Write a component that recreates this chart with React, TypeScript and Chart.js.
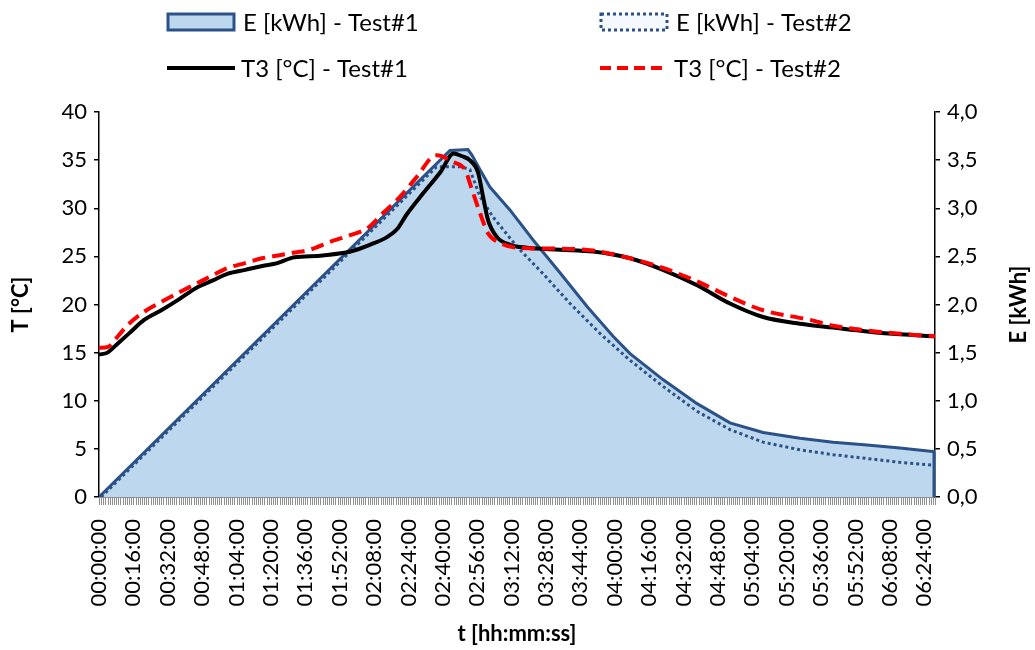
import React, { useEffect, useRef } from 'react';
import { Chart, registerables } from 'chart.js';

Chart.register(...registerables);

// ---- data (time in minutes from start) ----
const xMaxMinutes = 389;
const labelEvery = 16;
const minorTickEvery = 1;

const t1Times = [0, 4, 8, 14, 21, 29, 37, 45, 53, 60, 68, 76, 83, 89, 91, 104, 117, 126, 134, 139, 143, 151, 159, 165, 169, 172.5, 176.4, 178.7, 181, 185.2, 191.3, 199.2, 214.5, 229.9, 247.1, 262.4, 278.3, 293.6, 309, 326.2, 341.6, 357.4, 372.7, 389];
const t1Values = [14.8, 15.0, 15.8, 17.0, 18.4, 19.4, 20.5, 21.7, 22.5, 23.2, 23.6, 24.0, 24.3, 24.8, 24.9, 25.1, 25.5, 26.2, 27.0, 27.9, 29.3, 31.6, 33.8, 35.7, 35.4, 35.0, 33.7, 31.2, 28.8, 27.0, 26.2, 25.9, 25.7, 25.5, 24.8, 23.6, 22.0, 20.1, 18.7, 18.0, 17.6, 17.2, 16.9, 16.7];

const t2Times = [0, 4.2, 8.8, 13.5, 21.4, 29.3, 36.8, 44.7, 52.6, 60, 67.9, 75.8, 83.3, 91.2, 98.2, 107.5, 116.8, 124.7, 132.2, 140.1, 148, 155.4, 157.3, 164.7, 170.3, 173.6, 177.3, 181, 186.6, 194.5, 214.5, 229.9, 247.1, 262.4, 278.3, 293.6, 309, 330.9, 341.6, 357.4, 372.7, 389];
const t2Values = [15.5, 15.6, 16.7, 17.9, 19.3, 20.3, 21.2, 22.1, 23.0, 23.8, 24.3, 24.8, 25.1, 25.4, 25.7, 26.5, 27.2, 27.9, 29.5, 31.2, 33.3, 35.4, 35.5, 34.8, 34.0, 31.9, 29.5, 27.4, 26.4, 25.9, 25.8, 25.6, 24.8, 23.8, 22.4, 20.8, 19.4, 18.4, 17.8, 17.3, 16.95, 16.7];

const e1Times = [0, 163.3, 171.7, 173.6, 177.3, 181.9, 191.3, 202, 214.5, 227.1, 239.2, 247.1, 262.4, 278.3, 293.6, 309, 326.2, 341.6, 357.4, 372.7, 389];
const e1Values = [0, 3.6, 3.61, 3.55, 3.40, 3.22, 2.98, 2.67, 2.33, 1.98, 1.67, 1.49, 1.22, 0.97, 0.77, 0.67, 0.61, 0.57, 0.54, 0.51, 0.47];

const e2Times = [1, 157, 168.9, 172.6, 177.3, 183.3, 194.5, 206.6, 219.2, 233.1, 247.1, 262.4, 278.3, 293.6, 309, 326.2, 341.6, 357.4, 372.7, 389];
const e2Values = [0, 3.43, 3.43, 3.40, 3.12, 2.91, 2.60, 2.32, 2.01, 1.70, 1.42, 1.15, 0.89, 0.70, 0.57, 0.49, 0.44, 0.40, 0.36, 0.33];

const seriesLabels = ['E [kWh] - Test#1', 'E [kWh] - Test#2', 'T3 [°C] - Test#1', 'T3 [°C] - Test#2'];
const leftTitle = 'T [°C]';
const rightTitle = 'E [kWh]';
const bottomTitle = 't [hh:mm:ss]';

const FONT = 'Lato, "Open Sans", sans-serif';
const E_LINE = '#2B5189';
const E_FILL = '#BDD7EE';

const pts = (xs: number[], ys: number[]) => xs.map((x, i) => ({ x, y: ys[i] }));
const pad2 = (n: number) => (n < 10 ? '0' : '') + n;
const fmtTime = (m: number) => `${pad2(Math.floor(m / 60))}:${pad2(m % 60)}:00`;

const overlayPlugin = {
  id: 'overlay',
  afterDatasetsDraw(chart: any) {
    const ctx = chart.ctx as CanvasRenderingContext2D;
    const area = chart.chartArea;
    // right edge of the E test#1 area (area border)
    const meta = chart.getDatasetMeta(0);
    const last = meta.data[meta.data.length - 1];
    if (last) {
      ctx.save();
      ctx.strokeStyle = E_LINE;
      ctx.lineWidth = 3;
      ctx.beginPath();
      ctx.moveTo(last.x - 1, last.y);
      ctx.lineTo(last.x - 1, area.bottom);
      ctx.stroke();
      ctx.restore();
    }
  },
  afterDraw(chart: any) {
    const ctx = chart.ctx as CanvasRenderingContext2D;
    const area = chart.chartArea;
    const xs = chart.scales.x;
    ctx.save();
    // dense minor tick band under the time axis
    ctx.strokeStyle = '#8f8f8f';
    ctx.lineWidth = 1;
    ctx.beginPath();
    for (let m = 0; m <= xMaxMinutes; m += minorTickEvery) {
      const px = Math.round(xs.getPixelForValue(m)) + 0.5;
      ctx.moveTo(px, area.bottom);
      ctx.lineTo(px, area.bottom + 8);
    }
    ctx.stroke();

    // legend
    ctx.font = `24px ${FONT}`;
    ctx.textBaseline = 'middle';
    ctx.textAlign = 'left';
    ctx.fillStyle = E_FILL;
    ctx.fillRect(168, 14, 66, 16);
    ctx.strokeStyle = E_LINE;
    ctx.lineWidth = 3;
    ctx.strokeRect(168, 14, 66, 16);
    ctx.fillStyle = '#F5F8FC';
    ctx.fillRect(601, 14, 66, 16);
    ctx.setLineDash([3, 3]);
    ctx.strokeRect(601, 14, 66, 16);
    ctx.setLineDash([]);
    ctx.strokeStyle = '#000';
    ctx.lineWidth = 4;
    ctx.beginPath();
    ctx.moveTo(167, 68);
    ctx.lineTo(235, 68);
    ctx.stroke();
    ctx.strokeStyle = '#FF0000';
    ctx.setLineDash([11, 6]);
    ctx.beginPath();
    ctx.moveTo(600, 68);
    ctx.lineTo(668, 68);
    ctx.stroke();
    ctx.setLineDash([]);
    ctx.fillStyle = '#000';
    ctx.fillText(seriesLabels[0], 243, 23);
    ctx.fillText(seriesLabels[1], 676, 23);
    ctx.fillText(seriesLabels[2], 241, 69);
    ctx.fillText(seriesLabels[3], 674, 69);

    // axis titles
    ctx.font = `bold 22px ${FONT}`;
    ctx.textAlign = 'center';
    ctx.textBaseline = 'middle';
    ctx.fillText(bottomTitle, (area.left + area.right) / 2, 634);
    const midY = (area.top + area.bottom) / 2;
    ctx.save();
    ctx.translate(21, midY);
    ctx.rotate(-Math.PI / 2);
    ctx.fillText(leftTitle, 0, 0);
    ctx.restore();
    ctx.save();
    ctx.translate(1019, midY);
    ctx.rotate(-Math.PI / 2);
    ctx.fillText(rightTitle, 0, 0);
    ctx.restore();
    ctx.restore();
  },
};

export default function App() {
  const canvasRef = useRef<HTMLCanvasElement | null>(null);

  useEffect(() => {
    const canvas = canvasRef.current;
    if (!canvas) return;
    const chart = new Chart(canvas, {
      type: 'line',
      data: {
        datasets: [
          {
            label: seriesLabels[0],
            data: pts(e1Times, e1Values),
            yAxisID: 'yE',
            borderColor: E_LINE,
            backgroundColor: E_FILL,
            borderWidth: 3,
            fill: 'origin',
            pointRadius: 0,
            tension: 0,
            order: 4,
          },
          {
            label: seriesLabels[1],
            data: pts(e2Times, e2Values),
            yAxisID: 'yE',
            borderColor: E_LINE,
            backgroundColor: 'rgba(0,0,0,0)',
            borderWidth: 3,
            borderDash: [3, 3],
            fill: false,
            pointRadius: 0,
            tension: 0,
            order: 3,
          },
          {
            label: seriesLabels[2],
            data: pts(t1Times, t1Values),
            yAxisID: 'yT',
            borderColor: '#000000',
            borderWidth: 4,
            fill: false,
            pointRadius: 0,
            cubicInterpolationMode: 'monotone',
            order: 2,
          },
          {
            label: seriesLabels[3],
            data: pts(t2Times, t2Values),
            yAxisID: 'yT',
            borderColor: '#FF0000',
            borderWidth: 4,
            borderDash: [13, 7],
            fill: false,
            pointRadius: 0,
            cubicInterpolationMode: 'monotone',
            order: 1,
          },
        ],
      },
      options: {
        animation: false,
        responsive: false,
        devicePixelRatio: 1,
        layout: { padding: { top: 112, left: 0, right: 0, bottom: 0 } },
        plugins: { legend: { display: false }, tooltip: { enabled: false } },
        scales: {
          x: {
            type: 'linear',
            position: 'bottom',
            min: 0,
            max: xMaxMinutes,
            ticks: {
              stepSize: labelEvery,
              includeBounds: false,
              autoSkip: false,
              minRotation: 90,
              maxRotation: 90,
              padding: 14,
              color: '#000',
              font: { family: FONT, size: 22 },
              callback: (v: any) => fmtTime(Math.round(Number(v))),
            },
            grid: { display: false },
            border: { display: true, color: '#8f8f8f' },
            afterFit: (s: any) => { s.height = 153; },
          },
          yT: {
            type: 'linear',
            position: 'left',
            min: 0,
            max: 40,
            ticks: { stepSize: 5, color: '#000', padding: 7, font: { family: FONT, size: 22 } },
            grid: { display: true, drawOnChartArea: false, drawTicks: true, tickLength: 5, color: '#000', lineWidth: 1.5 },
            border: { display: true, color: '#000', width: 1.5 },
            afterFit: (s: any) => { s.width = 99; },
          },
          yE: {
            type: 'linear',
            position: 'right',
            min: 0,
            max: 4,
            ticks: {
              stepSize: 0.5,
              color: '#000',
              padding: 7,
              font: { family: FONT, size: 22 },
              callback: (v: any) => Number(v).toFixed(1).replace('.', ','),
            },
            grid: { display: true, drawOnChartArea: false, drawTicks: true, tickLength: 5, color: '#000', lineWidth: 1.5 },
            border: { display: true, color: '#000', width: 1.5 },
            afterFit: (s: any) => { s.width = 100; },
          },
        },
      },
      plugins: [overlayPlugin],
    } as any);
    return () => chart.destroy();
  }, []);

  return (
    <div style={{ position: 'absolute', left: 0, top: 0, width: 1035, height: 650, background: '#fff' }}>
      <canvas ref={canvasRef} width={1035} height={650} style={{ display: 'block' }} />
    </div>
  );
}
